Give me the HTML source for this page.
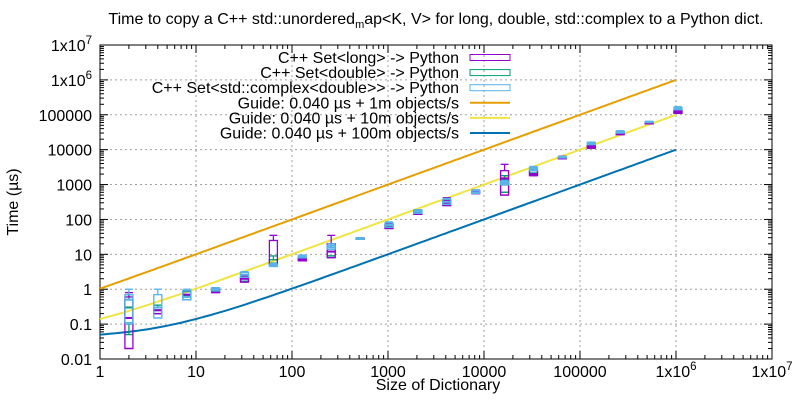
<!DOCTYPE html>
<html><head><meta charset="utf-8"><style>
html,body{margin:0;padding:0;background:#fff;}
svg{display:block;font-family:"Liberation Sans",sans-serif;}
</style></head><body>
<svg id="chart" width="800" height="400" xmlns="http://www.w3.org/2000/svg">
<text x="436" y="24" font-size="16" text-anchor="middle">Time to copy a C++ std::unordered<tspan font-size="11" dy="4">m</tspan><tspan dy="-4">ap&lt;K, V&gt; for long, double, std::complex to a Python dict.</tspan></text>
<text transform="translate(18,202) rotate(-90)" font-size="16" text-anchor="middle">Time (µs)</text>
<text x="438" y="390" font-size="16" text-anchor="middle">Size of Dictionary</text>
<g id="grid"></g><g id="axes"></g><g id="series"></g><g id="legend"></g>
</svg>
<script>
const yTickLabels = ["0.01","0.1","1","10","100","1000","10000","100000","1x10^6","1x10^7"];
const xTickLabels = ["1","10","100","1000","10000","100000","1x10^6","1x10^7"];
const sizes = [2,4,8,16,32,64,128,256,512,1024,2048,4096,8192,16384,32768,65536,131072,262144,524288,1048576];
// [min,q1,median,q3,max]
const longStats = [[0.02,0.02,0.15,0.6,0.8],[0.2,0.2,0.25,0.3,0.3],[0.5,0.5,0.7,0.9,0.9],[0.8,0.8,0.9,1.0,1.1],[1.6,1.6,2.0,2.2,2.4],[5,5,5,25,35],[6.5,6.5,7,7.5,8],[8,8,12,20,35],[28,28,29,29,30],[55,55,60,70,75],[140,140,160,180,190],[250,250,300,350,420],[550,550,600,650,700],[500,500,1500,2500,3800],[1800,1800,2000,2500,2800],[5500,5500,5800,6000,6500],[11000,11000,12000,13000,14000],[27000,27000,29000,31000,32000],[55000,55000,58000,60000,62000],[110000,110000,120000,130000,140000]];
const doubleStats = [[0.05,0.1,0.3,0.5,0.7],[0.2,0.2,0.25,0.3,0.35],[0.5,0.5,0.65,0.85,0.9],[0.85,0.85,0.9,1.0,1.05],[1.7,1.7,2.0,2.2,2.4],[5,5,5.5,7,9],[7,7,7.5,8,8.5],[9,9,12,16,20],[28,28,29,29,30],[58,58,62,70,75],[145,145,160,180,185],[260,260,300,350,380],[560,560,600,650,680],[600,600,1000,1400,1800],[1900,1900,2100,2500,2700],[5600,5600,5800,6000,6300],[11500,11500,12000,13000,13500],[27500,27500,29000,31000,32000],[56000,56000,58000,60000,61000],[112000,112000,120000,130000,135000]];
const complexStats = [[0.1,0.11,0.5,0.7,1.0],[0.15,0.15,0.3,0.7,1.0],[0.5,0.5,0.6,0.9,1.0],[0.9,0.9,1.0,1.1,1.1],[2.2,2.2,2.6,3.0,3.2],[4.5,4.5,5,5,5.5],[8,8,8.5,9,9.5],[14,14,16,18,20],[27,27,28,29,30],[60,60,70,80,85],[150,150,170,185,190],[270,270,320,380,400],[560,560,600,680,700],[1000,1000,1100,1200,1300],[2500,2500,2800,3100,3300],[5800,5800,6000,6200,6400],[14000,14000,15000,16000,16500],[30000,30000,32000,34000,35000],[60000,60000,62000,64000,65000],[140000,140000,150000,160000,170000]];
const guideOverhead = 0.04;
const guideRates = [1e6,1e7,1e8];

const L=100,R=772,T=45,B=359;
const xs=v=>L+(R-L)*Math.log10(v)/7;
const ys=v=>B-(B-T)*(Math.log10(v)+2)/9;
const NS="http://www.w3.org/2000/svg";
function mk(tag,attrs,parent){const e=document.createElementNS(NS,tag);for(const k in attrs)e.setAttribute(k,attrs[k]);parent.appendChild(e);return e;}
const grid=document.getElementById('grid'),axes=document.getElementById('axes'),series=document.getElementById('series'),legend=document.getElementById('legend');

function sup(parent,label,x,y,anchor){
  const t=mk('text',{x:x,y:y,'font-size':16,'text-anchor':anchor},parent);
  if(label.includes('^')){const [a,b]=label.split('^');t.textContent=a;const s=mk('tspan',{dy:-7,'font-size':11.5},t);s.textContent=b;}
  else t.textContent=label;
  return t;
}
yTickLabels.forEach((lab,i)=>{
  const y=ys(Math.pow(10,i-2));
  if(i>0&&i<yTickLabels.length-1){const g=mk('line',{x1:L,x2:R,y1:y,y2:y,stroke:'#a0a0a0','stroke-dasharray':'2,3','stroke-width':1},grid);
  }
  const t=sup(axes,lab,92,y+6,'end');
  
  mk('line',{x1:L,x2:L+8,y1:y,y2:y,stroke:'#000'},axes);mk('line',{x1:R,x2:R-8,y1:y,y2:y,stroke:'#000'},axes);
  if(i<yTickLabels.length-1)for(let m=2;m<10;m++){const yy=ys(m*Math.pow(10,i-2));mk('line',{x1:L,x2:L+4,y1:yy,y2:yy,stroke:'#000'},axes);mk('line',{x1:R,x2:R-4,y1:yy,y2:yy,stroke:'#000'},axes);}
});
xTickLabels.forEach((lab,i)=>{
  const x=xs(Math.pow(10,i));
  if(i>0&&i<xTickLabels.length-1){const g=mk('line',{x1:x,x2:x,y1:T,y2:B,stroke:'#a0a0a0','stroke-dasharray':'2,3','stroke-width':1},grid);
  }
  const t=sup(axes,lab,x,377,'middle');
  
  mk('line',{x1:x,x2:x,y1:B,y2:B-8,stroke:'#000'},axes);mk('line',{x1:x,x2:x,y1:T,y2:T+8,stroke:'#000'},axes);
  if(i<xTickLabels.length-1)for(let m=2;m<10;m++){const xx=xs(m*Math.pow(10,i));mk('line',{x1:xx,x2:xx,y1:B,y2:B-4,stroke:'#000'},axes);mk('line',{x1:xx,x2:xx,y1:T,y2:T+4,stroke:'#000'},axes);}
});
const frame=mk('rect',{x:L,y:T,width:R-L,height:B-T,fill:'none',stroke:'#000','stroke-width':1},axes);


const guideColors=['#e69f00','#f0e442','#0072b2'];
guideRates.forEach((r,gi)=>{
  const pts=[];for(let k=0;k<=120;k++){const n=Math.pow(10,6*k/120);pts.push(xs(n).toFixed(1)+','+ys(guideOverhead+n*1e6/r).toFixed(1));}
  const p=mk('polyline',{points:pts.join(' '),fill:'none',stroke:guideColors[gi],'stroke-width':2},series);
  
});
function drawBoxes(stats,color,name){
  stats.forEach((s,i)=>{
    const x=xs(sizes[i]),w=4;
    const g=mk('g',{stroke:color,fill:'none','stroke-width':1.3},series);
    
    mk('line',{x1:x,x2:x,y1:ys(s[0]),y2:ys(s[1])},g);
    mk('line',{x1:x,x2:x,y1:ys(s[3]),y2:ys(s[4])},g);
    mk('line',{x1:x-w,x2:x+w,y1:ys(s[4]),y2:ys(s[4])},g);
    mk('line',{x1:x-w,x2:x+w,y1:ys(s[0]),y2:ys(s[0])},g);
    mk('rect',{x:x-w,y:ys(s[3]),width:2*w,height:Math.max(1,ys(s[1])-ys(s[3]))},g);
    mk('line',{x1:x-w,x2:x+w,y1:ys(s[2]),y2:ys(s[2]),'stroke-width':2},g);
  });
}
drawBoxes(doubleStats,'#009e73','double');
drawBoxes(longStats,'#9400d3','long');
drawBoxes(complexStats,'#56b4e9','complex');

const legItems=[['C++ Set<long> -> Python','#9400d3','box'],['C++ Set<double> -> Python','#009e73','box'],['C++ Set<std::complex<double>> -> Python','#56b4e9','box'],['Guide: 0.040 µs + 1m objects/s','#e69f00','line'],['Guide: 0.040 µs + 10m objects/s','#f0e442','line'],['Guide: 0.040 µs + 100m objects/s','#0072b2','line']];
legItems.forEach((it,i)=>{
  const y=57.5+i*15.1;
  const g=mk('g',{},legend);
  
  const t=mk('text',{x:459,y:y+5.5,'font-size':16,'text-anchor':'end'},g);t.textContent=it[0];
  if(it[2]==='box')mk('rect',{x:470,y:y-3,width:40,height:6,fill:'none',stroke:it[1],'stroke-width':1},g);
  else mk('line',{x1:470,x2:510,y1:y,y2:y,stroke:it[1],'stroke-width':2},g);
});
</script>
</body></html>
